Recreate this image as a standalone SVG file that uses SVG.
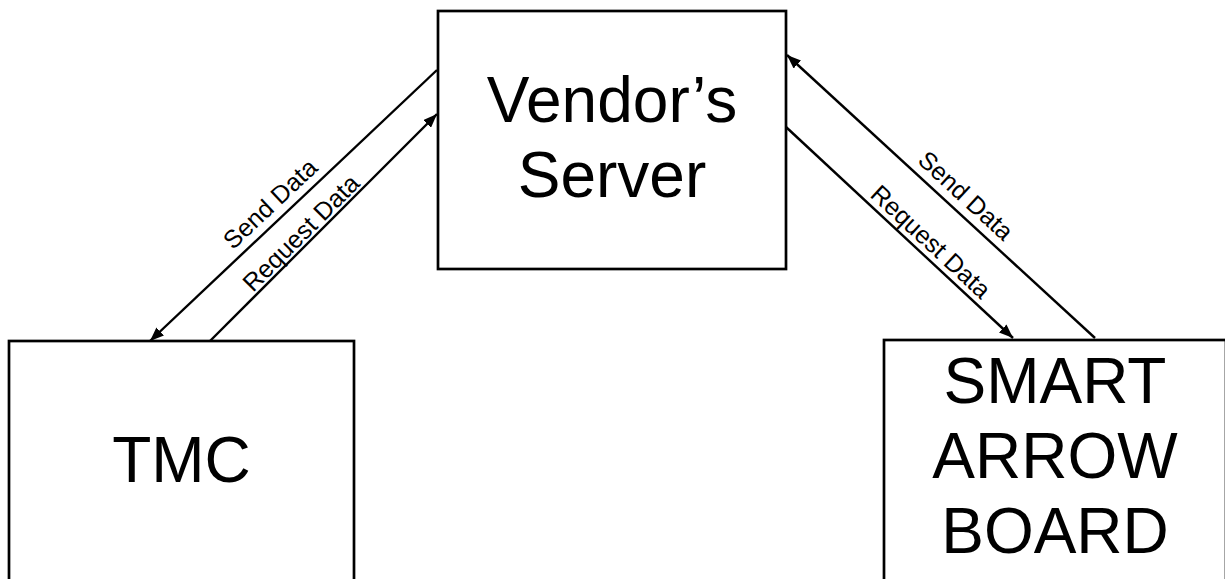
<svg xmlns="http://www.w3.org/2000/svg" width="1225" height="579" viewBox="0 0 1225 579">
  <style>
    .box { fill: #ffffff; stroke: #000000; stroke-width: 2.7; }
    .big { font-family: "Liberation Sans", Arial, sans-serif; font-size: 64px; fill: #000000; text-anchor: middle; }
    .wire { stroke: #000000; stroke-width: 2.4; fill: none; }
    .lbl { font-family: "Liberation Sans", Arial, sans-serif; font-size: 25px; fill: #000000; text-anchor: middle; }
  </style>
  <defs>
    <marker id="head" viewBox="0 0 14 11" refX="14" refY="5.5" markerWidth="14" markerHeight="11" markerUnits="userSpaceOnUse" orient="auto">
      <path d="M0,0 L14,5.5 L0,11 Z" fill="#000000"/>
    </marker>
  </defs>
  <rect width="1225" height="579" fill="#ffffff"/>

  <!-- Vendor's Server -->
  <g id="vendor">
    <rect class="box" x="438" y="11" width="348" height="258"/>
    <text class="big" x="612" y="122">Vendor’s</text>
    <text class="big" x="612" y="197">Server</text>
  </g>

  <!-- TMC -->
  <g id="tmc">
    <rect class="box" x="9" y="341" width="345" height="260"/>
    <text class="big" x="181.5" y="482">TMC</text>
  </g>

  <!-- Smart arrow board -->
  <g id="board">
    <rect class="box" x="884" y="340" width="342" height="260"/>
    <text class="big" x="1055" y="403">SMART</text>
    <text class="big" x="1055" y="478">ARROW</text>
    <text class="big" x="1055" y="553">BOARD</text>
  </g>

  <!-- connectors -->
  <g id="connectors">
    <line class="wire" x1="437" y1="70" x2="150" y2="341" marker-end="url(#head)"/>
    <line class="wire" x1="210" y1="341" x2="437" y2="114" marker-end="url(#head)"/>
    <line class="wire" x1="1095" y1="338" x2="787" y2="55" marker-end="url(#head)"/>
    <line class="wire" x1="786" y1="127" x2="1013" y2="338" marker-end="url(#head)"/>

    <text class="lbl" transform="translate(276,210) rotate(-43.3)">Send Data</text>
    <text class="lbl" transform="translate(307,239) rotate(-45)">Request Data</text>
    <text class="lbl" transform="translate(960,202) rotate(42.5)">Send Data</text>
    <text class="lbl" transform="translate(925,248) rotate(42.9)">Request Data</text>
  </g>
</svg>
